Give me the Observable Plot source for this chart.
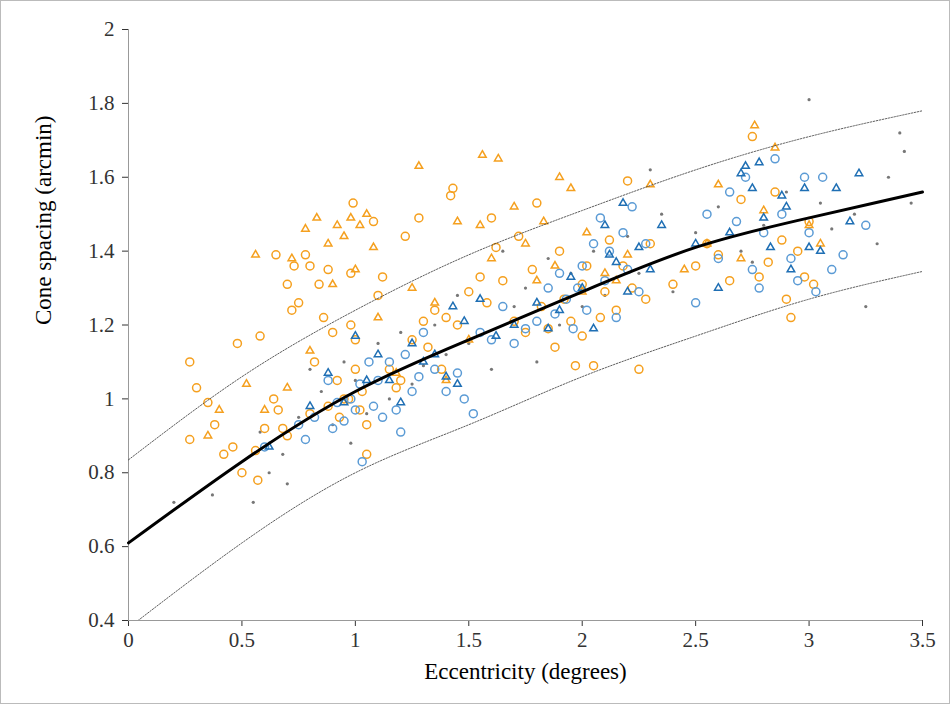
<!DOCTYPE html>
<html><head><meta charset="utf-8">
<script src="https://cdn.jsdelivr.net/npm/d3@7"></script>
<script src="https://cdn.jsdelivr.net/npm/@observablehq/plot@0.6"></script>
<style>
body{margin:0;background:#fff;}
#chart{width:948px;height:702px;border:1px solid #bbb;}
</style>
</head><body><div id="chart"></div>
<script>
const fitX = [0, 0.5, 1, 1.5, 2, 2.5, 3, 3.5];
const fitMid = [0.61, 0.83, 1.02, 1.16, 1.29, 1.41, 1.49, 1.56];
const fitUp = [0.835, 1.06, 1.24, 1.39, 1.51, 1.62, 1.71, 1.78];
const fitLo = [0.38, 0.61, 0.8, 0.93, 1.06, 1.17, 1.27, 1.345];

const orangeCircles = [[0.27,1.10],[0.3,1.03],[0.27,0.89],[0.35,0.99],[0.38,0.93],[0.42,0.85],[0.46,0.87],[0.5,0.8],[0.48,1.15],[0.58,1.17],[0.57,0.78],[0.56,0.86],[0.6,0.92],[0.64,1.0],[0.66,0.97],[0.68,0.92],[0.7,0.9],[0.7,1.31],[0.72,1.24],[0.73,1.36],[0.75,1.26],[0.78,1.39],[0.65,1.39],[0.8,1.36],[0.8,0.96],[0.82,1.1],[0.84,1.31],[0.86,1.22],[0.88,1.35],[0.88,0.98],[0.9,1.18],[0.92,1.05],[0.93,0.95],[0.95,1.0],[0.97,1.0],[0.98,1.2],[0.98,1.34],[0.99,1.53],[1.0,1.16],[1.0,1.08],[1.02,0.97],[1.03,1.02],[1.05,0.85],[1.05,0.93],[1.08,1.48],[1.1,1.28],[1.12,1.33],[1.15,1.08],[1.18,1.03],[1.2,1.05],[1.22,1.44],[1.25,1.16],[1.28,1.49],[1.3,1.21],[1.32,1.14],[1.35,1.24],[1.38,1.08],[1.4,1.22],[1.42,1.55],[1.43,1.57],[1.45,1.2],[1.5,1.29],[1.55,1.33],[1.58,1.26],[1.6,1.49],[1.62,1.41],[1.65,1.32],[1.7,1.21],[1.72,1.44],[1.75,1.18],[1.78,1.35],[1.8,1.53],[1.82,1.25],[1.85,1.19],[1.88,1.14],[1.9,1.4],[1.92,1.27],[1.95,1.21],[1.97,1.09],[2.0,1.17],[2.0,1.31],[2.02,1.36],[2.05,1.09],[2.08,1.22],[2.1,1.29],[2.12,1.43],[2.15,1.24],[2.18,1.36],[2.2,1.59],[2.22,1.3],[2.25,1.08],[2.28,1.27],[2.3,1.42],[2.4,1.31],[2.5,1.36],[2.55,1.42],[2.6,1.39],[2.65,1.32],[2.7,1.54],[2.75,1.71],[2.78,1.33],[2.82,1.37],[2.85,1.56],[2.88,1.43],[2.9,1.27],[2.92,1.22],[2.95,1.4],[2.98,1.33],[3.0,1.48],[3.02,1.31]];
const orangeTriangles = [[0.35,0.9],[0.4,0.97],[0.52,1.04],[0.56,1.39],[0.6,0.97],[0.7,1.03],[0.72,1.38],[0.78,1.46],[0.8,1.13],[0.83,1.49],[0.88,1.42],[0.9,1.31],[0.92,1.47],[0.95,1.44],[0.98,1.49],[1.0,1.35],[1.02,1.47],[1.05,1.5],[1.08,1.41],[1.1,1.22],[1.18,1.07],[1.25,1.3],[1.28,1.63],[1.35,1.26],[1.4,1.05],[1.45,1.48],[1.5,1.16],[1.55,1.47],[1.56,1.66],[1.6,1.38],[1.63,1.65],[1.7,1.52],[1.75,1.42],[1.8,1.32],[1.83,1.48],[1.88,1.36],[1.9,1.6],[1.95,1.57],[2.0,1.29],[2.02,1.45],[2.1,1.34],[2.15,1.32],[2.2,1.39],[2.3,1.58],[2.45,1.35],[2.55,1.42],[2.6,1.58],[2.7,1.38],[2.76,1.74],[2.8,1.51],[2.85,1.68],[3.0,1.47],[3.05,1.42]];
const blueCircles = [[0.6,0.87],[0.75,0.93],[0.78,0.89],[0.82,0.95],[0.88,1.05],[0.9,0.92],[0.92,0.99],[0.95,0.94],[0.98,1.0],[1.0,0.97],[1.02,1.04],[1.03,0.83],[1.06,1.1],[1.08,0.98],[1.1,1.05],[1.12,0.95],[1.15,1.1],[1.18,0.97],[1.2,0.91],[1.22,1.12],[1.25,1.02],[1.28,1.06],[1.3,1.18],[1.35,1.08],[1.4,1.02],[1.45,1.07],[1.48,1.0],[1.52,0.96],[1.55,1.18],[1.6,1.16],[1.65,1.25],[1.7,1.15],[1.75,1.19],[1.8,1.21],[1.85,1.3],[1.88,1.23],[1.9,1.34],[1.93,1.27],[1.96,1.19],[1.98,1.3],[2.0,1.36],[2.02,1.24],[2.05,1.42],[2.08,1.49],[2.1,1.32],[2.12,1.4],[2.15,1.22],[2.18,1.45],[2.2,1.35],[2.22,1.52],[2.25,1.29],[2.28,1.42],[2.5,1.26],[2.55,1.5],[2.6,1.38],[2.65,1.56],[2.68,1.48],[2.72,1.6],[2.75,1.35],[2.78,1.3],[2.8,1.45],[2.85,1.65],[2.88,1.5],[2.92,1.38],[2.95,1.32],[2.98,1.6],[3.0,1.45],[3.03,1.29],[3.06,1.6],[3.1,1.35],[3.15,1.39],[3.25,1.47]];
const blueTriangles = [[0.62,0.87],[0.8,0.98],[0.88,1.07],[0.95,0.99],[1.0,1.17],[1.05,1.05],[1.1,1.12],[1.15,1.05],[1.2,0.99],[1.25,1.15],[1.3,1.1],[1.35,1.12],[1.4,1.06],[1.43,1.25],[1.45,1.04],[1.48,1.21],[1.55,1.27],[1.62,1.17],[1.7,1.2],[1.8,1.26],[1.85,1.19],[1.9,1.24],[1.95,1.33],[2.0,1.3],[2.05,1.19],[2.1,1.47],[2.12,1.39],[2.15,1.37],[2.18,1.53],[2.2,1.29],[2.25,1.41],[2.3,1.35],[2.35,1.47],[2.5,1.42],[2.6,1.3],[2.65,1.45],[2.7,1.61],[2.72,1.63],[2.75,1.57],[2.78,1.64],[2.8,1.49],[2.83,1.41],[2.88,1.55],[2.9,1.52],[2.92,1.35],[2.98,1.57],[3.0,1.41],[3.05,1.4],[3.12,1.57],[3.18,1.48],[3.22,1.61]];
const grayDots = [[0.2,0.72],[0.37,0.74],[0.55,0.72],[0.58,0.91],[0.62,0.8],[0.68,0.85],[0.7,0.77],[0.75,0.95],[0.8,1.08],[0.85,1.02],[0.9,0.93],[0.95,1.1],[1.0,1.05],[1.05,0.96],[1.1,1.15],[1.15,1.0],[1.2,1.18],[1.25,1.04],[1.3,1.09],[1.35,1.2],[1.4,1.12],[1.5,1.15],[1.6,1.08],[1.7,1.25],[1.75,1.3],[1.8,1.1],[1.85,1.38],[1.9,1.2],[1.95,1.34],[2.0,1.25],[2.05,1.4],[2.1,1.28],[2.2,1.44],[2.25,1.34],[2.35,1.5],[2.4,1.29],[2.5,1.45],[2.6,1.52],[2.7,1.4],[2.75,1.37],[2.8,1.47],[2.9,1.56],[3.0,1.81],[3.05,1.53],[3.1,1.46],[3.2,1.5],[3.25,1.25],[3.3,1.42],[3.35,1.6],[3.4,1.72],[3.42,1.67],[3.45,1.53],[1.65,1.4],[2.3,1.62],[1.45,1.28],[0.98,0.88]];

const xTicks = [0, 0.5, 1, 1.5, 2, 2.5, 3, 3.5];
const yTicks = [0.4, 0.6, 0.8, 1, 1.2, 1.4, 1.6, 1.8, 2];

const fit = fitX.map((x, i) => ({x, mid: fitMid[i], up: fitUp[i], lo: fitLo[i]}));
const fmt = d => String(+d.toFixed(1));
const ORANGE = "#f5a01f", BLUE = "#5b9bd5", DBLUE = "#1f6fb4";

const chart = Plot.plot({
  width: 948, height: 702,
  marginLeft: 127, marginRight: 27, marginTop: 28, marginBottom: 83,
  style: {fontFamily: "Liberation Serif", fontSize: "21px", color: "#333"},
  x: {domain: [0, 3.5], ticks: xTicks, tickFormat: fmt, label: null},
  y: {domain: [0.4, 2], ticks: yTicks, tickFormat: fmt, label: null},
  marks: [
    Plot.axisX({ticks: xTicks, tickFormat: fmt, tickSize: 6, tickPadding: 6, fontSize: 21}),
    Plot.axisY({ticks: yTicks, tickFormat: fmt, tickSize: 6, tickPadding: 8, fontSize: 21}),
    Plot.ruleY([0.4], {stroke: "#999"}),
    Plot.ruleX([0], {stroke: "#999"}),
    Plot.dot(grayDots, {x: d => d[0], y: d => d[1], r: 1.6, fill: "#777", stroke: null}),
    Plot.dot(orangeCircles, {x: d => d[0], y: d => d[1], r: 4, stroke: ORANGE, strokeWidth: 1.5}),
    Plot.dot(blueCircles, {x: d => d[0], y: d => d[1], r: 4, stroke: BLUE, strokeWidth: 1.5}),
    Plot.dot(orangeTriangles, {x: d => d[0], y: d => d[1], r: 2.8, symbol: "triangle", stroke: ORANGE, strokeWidth: 1.5}),
    Plot.dot(blueTriangles, {x: d => d[0], y: d => d[1], r: 2.8, symbol: "triangle", stroke: DBLUE, strokeWidth: 1.5}),
    Plot.line(fit, {x: "x", y: "up", stroke: "#333", strokeWidth: 0.8, strokeDasharray: "1.5,1.5", curve: "natural", clip: true}),
    Plot.line(fit, {x: "x", y: "lo", stroke: "#333", strokeWidth: 0.8, strokeDasharray: "1.5,1.5", curve: "natural", clip: true}),
    Plot.line(fit, {x: "x", y: "mid", stroke: "#000", strokeWidth: 3, curve: "natural"}),
    Plot.text(["Cone spacing (arcmin)"], {frameAnchor: "left", dx: -85, rotate: -90, fontSize: 23, fill: "#000"}),
    Plot.text(["Eccentricity (degrees)"], {frameAnchor: "bottom", dy: 58, fontSize: 23, fill: "#000"})
  ]
});
d3.select("#chart").append(() => chart);
</script></body></html>
